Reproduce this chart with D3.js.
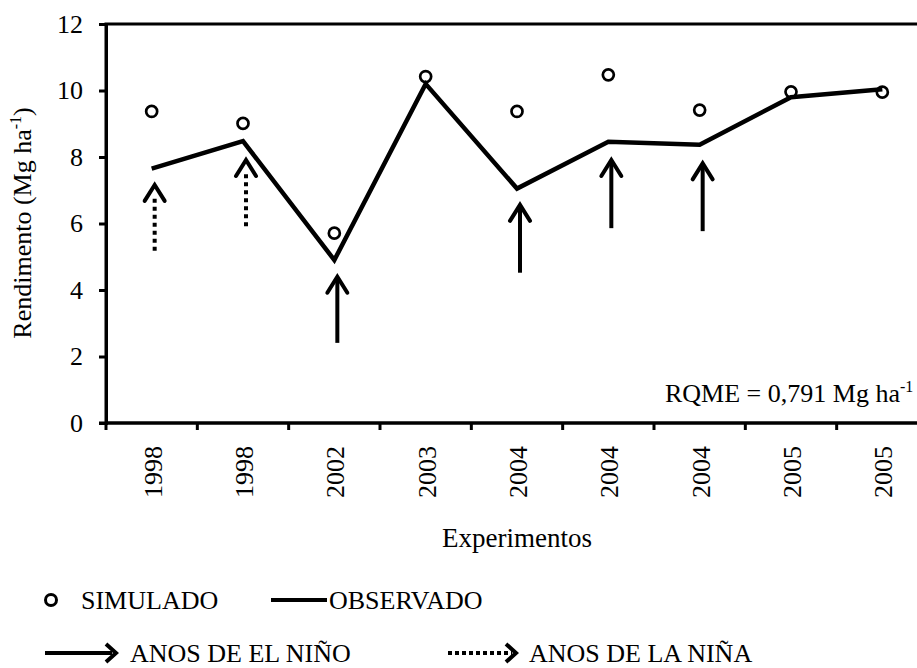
<!DOCTYPE html>
<html>
<head>
<meta charset="utf-8">
<script src="https://cdn.jsdelivr.net/npm/d3@7"></script>
<style>
  body { margin: 0; background: #fff; }
  svg text { font-family: "Liberation Serif", "Times New Roman", "DejaVu Serif", serif !important; fill: #000; }
</style>
</head>
<body>
<svg id="chart" width="917" height="668"></svg>
<script>
"use strict";

// données
const years = ["1998", "1998", "2002", "2003", "2004", "2004", "2004", "2005", "2005"];
const observado = [7.65, 8.48, 4.9, 10.2, 7.05, 8.46, 8.37, 9.8, 10.04];
const simulado = [9.37, 9.01, 5.71, 10.42, 9.37, 10.47, 9.41, 9.96, 9.95];
const yTicks = [0, 2, 4, 6, 8, 10, 12];

// flèches : indice de l'expérience, pointe et queue (Mg ha-1)
const ninoArrows = [
  { cat: 2, tip: 4.40, tail: 2.41 },
  { cat: 4, tip: 6.56, tail: 4.52 },
  { cat: 5, tip: 7.91, tail: 5.86 },
  { cat: 6, tip: 7.81, tail: 5.77 }
];
const ninaArrows = [
  { cat: 0, tip: 7.16, tail: 5.18 },
  { cat: 1, tip: 7.91, tail: 5.92 }
];

const FONT = "'Liberation Serif', 'Times New Roman', serif";
const FS = "26px";

const svg = d3.select("#chart").attr("font-family", FONT);

const x = d3.scaleBand()
  .domain(d3.range(years.length))
  .range([106, 928]);

const y = d3.scaleLinear()
  .domain([0, 12])
  .range([423, 24]);

const cx = i => x(i) + x.bandwidth() / 2;

// cadre de la zone de tracé
svg.append("rect")
  .attr("x", x.range()[0])
  .attr("y", y(12))
  .attr("width", x.range()[1] - x.range()[0])
  .attr("height", y(0) - y(12))
  .attr("fill", "none")
  .attr("stroke", "#000")
  .attr("stroke-width", 3);

// axe Y
const yAxis = svg.append("g")
  .attr("transform", "translate(" + x.range()[0] + ",0)")
  .call(d3.axisLeft(y).tickValues(yTicks).tickSize(7).tickPadding(16))
  .attr("font-family", FONT);
yAxis.select(".domain").attr("stroke-width", 3);
yAxis.selectAll(".tick line").attr("stroke-width", 3);
yAxis.selectAll(".tick text")
  .style("font-size", FS)
  .attr("fill", "#000");

// axe X (ticks entre les catégories)
const xAxis = svg.append("g")
  .attr("transform", "translate(0," + y(0) + ")");
xAxis.append("line")
  .attr("x1", x.range()[0] - 7).attr("x2", x.range()[1])
  .attr("y1", 0).attr("y2", 0)
  .attr("stroke", "#000").attr("stroke-width", 3);
xAxis.selectAll(".xtick")
  .data(d3.range(years.length + 1))
  .enter()
  .append("line")
  .attr("class", "xtick")
  .attr("x1", d => x.range()[0] + d * x.bandwidth())
  .attr("x2", d => x.range()[0] + d * x.bandwidth())
  .attr("y1", 0).attr("y2", 7)
  .attr("stroke", "#000").attr("stroke-width", 3);
xAxis.selectAll(".xlabel")
  .data(years)
  .enter()
  .append("text")
  .attr("class", "xlabel")
  .attr("transform", (d, i) => "translate(" + (cx(i) + 1) + ",23) rotate(-90)")
  .attr("text-anchor", "end")
  .attr("dy", "0.35em")
  .style("font-size", FS)
  .text(d => d);

// titres des axes
const yTitle = svg.append("text")
  .attr("transform", "translate(31,223) rotate(-90)")
  .attr("text-anchor", "middle")
  .style("font-size", FS);
yTitle.append("tspan").text("Rendimento (Mg ha");
yTitle.append("tspan").attr("dy", -10).style("font-size", "16px").text("-1");
yTitle.append("tspan").attr("dy", 10).text(")");

svg.append("text")
  .attr("x", (x.range()[0] + x.range()[1]) / 2)
  .attr("y", 547)
  .attr("text-anchor", "middle")
  .style("font-size", "27px")
  .text("Experimentos");

// RQME
const rq = svg.append("text")
  .attr("x", 665)
  .attr("y", 402)
  .style("font-size", FS);
rq.append("tspan").text("RQME = 0,791 Mg ha");
rq.append("tspan").attr("dy", -10).style("font-size", "16px").text("-1");

// flèches
function arrowUp(g, d, dashed) {
  const ax = cx(d.cat) + 3;
  g.append("line")
    .attr("x1", ax).attr("x2", ax)
    .attr("y1", y(d.tail)).attr("y2", y(d.tip) + (dashed ? 12 : 3))
    .attr("stroke", "#000")
    .attr("stroke-width", 4)
    .attr("stroke-dasharray", dashed ? "4,4" : null);
  g.append("path")
    .attr("d", "M" + (ax - 10) + "," + (y(d.tip) + 16) + "L" + ax + "," + y(d.tip) + "L" + (ax + 10) + "," + (y(d.tip) + 16))
    .attr("fill", "none")
    .attr("stroke", "#000")
    .attr("stroke-width", 4)
    .attr("stroke-linecap", "round");
}
const arrows = svg.append("g");
ninoArrows.forEach(d => arrowUp(arrows, d, false));
ninaArrows.forEach(d => arrowUp(arrows, d, true));

// série observée
svg.append("path")
  .datum(observado)
  .attr("d", d3.line().x((d, i) => cx(i)).y(d => y(d)))
  .attr("fill", "none")
  .attr("stroke", "#000")
  .attr("stroke-width", 4.5)
  .attr("stroke-linejoin", "miter");

// série simulée
svg.selectAll(".sim")
  .data(simulado)
  .enter()
  .append("circle")
  .attr("class", "sim")
  .attr("cx", (d, i) => cx(i))
  .attr("cy", d => y(d))
  .attr("r", 5.5)
  .attr("fill", "none")
  .attr("stroke", "#000")
  .attr("stroke-width", 2.7);

// légende
const leg = svg.append("g");
const row1 = 600, row2 = 653;
leg.append("circle")
  .attr("cx", 51).attr("cy", row1).attr("r", 5.5)
  .attr("fill", "none").attr("stroke", "#000").attr("stroke-width", 3);
leg.append("text").attr("x", 81).attr("y", row1 + 9).style("font-size", FS).text("SIMULADO");
leg.append("line")
  .attr("x1", 271).attr("x2", 327).attr("y1", row1).attr("y2", row1)
  .attr("stroke", "#000").attr("stroke-width", 4);
leg.append("text").attr("x", 329).attr("y", row1 + 9).style("font-size", FS).text("OBSERVADO");

function arrowRight(g, x0, x1, yy, dashed) {
  g.append("line")
    .attr("x1", x0).attr("x2", x1 - 4).attr("y1", yy).attr("y2", yy)
    .attr("stroke", "#000").attr("stroke-width", 4)
    .attr("stroke-dasharray", dashed ? "4,3" : null);
  g.append("path")
    .attr("d", "M" + (x1 - 10) + "," + (yy - 9) + "L" + x1 + "," + yy + "L" + (x1 - 10) + "," + (yy + 9))
    .attr("fill", "none").attr("stroke", "#000").attr("stroke-width", 4);
}
arrowRight(leg, 45, 116, row2, false);
leg.append("text").attr("x", 130).attr("y", row2 + 9).style("font-size", FS).text("ANOS DE EL NIÑO");
arrowRight(leg, 448, 516, row2, true);
leg.append("text").attr("x", 529).attr("y", row2 + 9).style("font-size", FS).text("ANOS DE LA NIÑA");
</script>
</body>
</html>
